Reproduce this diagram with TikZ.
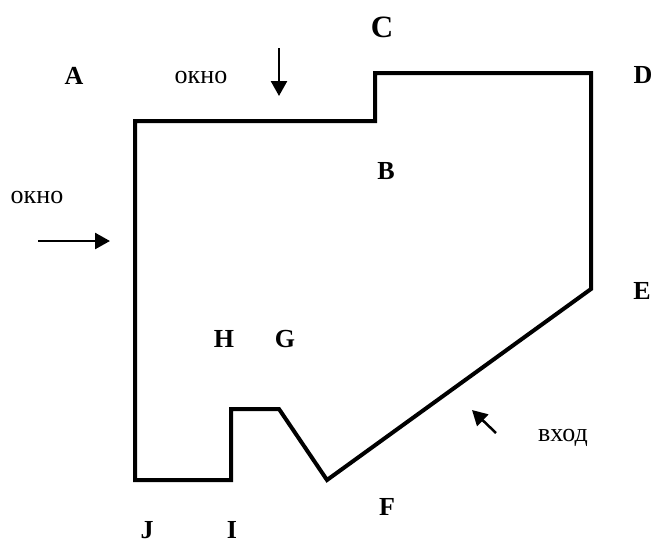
\documentclass[tikz,border=0pt]{standalone}
\usepackage{fontspec}
\setmainfont{Liberation Serif}
\usetikzlibrary{arrows.meta}
\tikzset{
  wall/.style={line width=4pt,line join=miter},
  pointer/.style={line width=2.5pt,-{Triangle[length=15pt,width=16pt]}},
  letter/.style={font=\bfseries\fontsize{26}{26}\selectfont,inner sep=0pt,anchor=center},
  word/.style={font=\fontsize{26}{26}\selectfont,inner sep=0pt,anchor=center}
}
\begin{document}
\begin{tikzpicture}[x=1pt,y=-1pt]
\useasboundingbox (0,0) rectangle (654,539);
\fill[white] (0,0) rectangle (654,539);
\coordinate (a) at (135,121);
\coordinate (b) at (375,121);
\coordinate (c) at (375,73);
\coordinate (d) at (591,73);
\coordinate (e) at (591,289);
\coordinate (f) at (327,480);
\coordinate (g) at (279,409);
\coordinate (h) at (231,409);
\coordinate (i) at (231,480);
\coordinate (j) at (135,480);
\draw[wall] (a) -- (b) -- (c) -- (d) -- (e) -- (f) -- (g) -- (h) -- (i) -- (j) -- cycle;
\coordinate (t1) at (279,48); \coordinate (h1) at (279,96);
\coordinate (t2) at (38,241); \coordinate (h2) at (110,241);
\coordinate (t3) at (496,433); \coordinate (h3) at (472,410);
\draw[pointer] (t1) -- (h1);
\draw[pointer] (t2) -- (h2);
\draw[pointer] (t3) -- (h3);
\node[letter] (la) at (74,76) {A};
\node[letter] (lb) at (386,171) {B};
\node[letter,font=\bfseries\fontsize{31}{31}\selectfont] (lc) at (382,27) {C};
\node[letter] (ld) at (643,75) {D};
\node[letter] (le) at (642,291) {E};
\node[letter] (lf) at (387,507) {F};
\node[letter] (lg) at (285,339) {G};
\node[letter] (lh) at (224,339) {H};
\node[letter] (li) at (232,530) {I};
\node[letter] (lj) at (147,530) {J};
\node[word] (w1) at (201,77) {окно};
\node[word] (w2) at (37,197) {окно};
\node[word] (w3) at (563,438) {вход};
\end{tikzpicture}
\end{document}
